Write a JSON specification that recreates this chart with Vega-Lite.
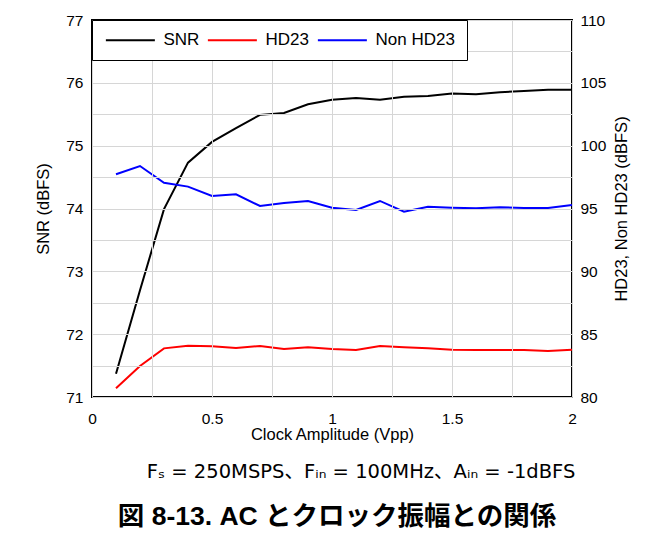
{
  "$schema": "https://vega.github.io/schema/vega-lite/v6.json",
  "padding": {"left": 34, "top": 12, "right": 0, "bottom": 0},
  "background": "white",
  "config": {
    "font": "Liberation Sans",
    "view": {"stroke": "black", "strokeWidth": 2},
    "axis": {
      "domain": false,
      "ticks": false,
      "grid": true,
      "gridColor": "#d6d6d6",
      "gridOpacity": 1,
      "gridWidth": 1,
      "labelFont": "Liberation Sans",
      "labelFontSize": 15.5,
      "labelColor": "black",
      "titleFont": "Liberation Sans",
      "titleFontSize": 16.5,
      "titleFontWeight": "normal",
      "titleColor": "black"
    }
  },
  "title": {
    "text": "図 8-13. AC とクロック振幅との関係",
    "orient": "bottom",
    "anchor": "middle",
    "dx": 4,
    "font": "Liberation Sans, Noto Sans CJK JP",
    "fontSize": 26.5,
    "fontWeight": "bold",
    "color": "black",
    "offset": 21
  },
  "vconcat": [
    {
      "width": 480,
      "height": 377,
      "title": {
        "text": "Fₛ = 250MSPS、Fᵢₙ = 100MHz、Aᵢₙ = -1dBFS",
        "orient": "bottom",
        "anchor": "middle",
        "dx": 29,
        "font": "DejaVu Sans, Noto Sans CJK JP",
        "fontSize": 19.5,
        "fontWeight": "normal",
        "color": "black",
        "offset": 20
      },
      "data": {
        "values": [
          {"x": 0.1, "series": "SNR", "value": 71.37},
          {"x": 0.2, "series": "SNR", "value": 72.7},
          {"x": 0.3, "series": "SNR", "value": 73.99},
          {"x": 0.4, "series": "SNR", "value": 74.73},
          {"x": 0.5, "series": "SNR", "value": 75.06},
          {"x": 0.6, "series": "SNR", "value": 75.28},
          {"x": 0.7, "series": "SNR", "value": 75.49},
          {"x": 0.8, "series": "SNR", "value": 75.52},
          {"x": 0.9, "series": "SNR", "value": 75.66},
          {"x": 1.0, "series": "SNR", "value": 75.73},
          {"x": 1.1, "series": "SNR", "value": 75.76},
          {"x": 1.2, "series": "SNR", "value": 75.73},
          {"x": 1.3, "series": "SNR", "value": 75.78},
          {"x": 1.4, "series": "SNR", "value": 75.79},
          {"x": 1.5, "series": "SNR", "value": 75.83},
          {"x": 1.6, "series": "SNR", "value": 75.82},
          {"x": 1.7, "series": "SNR", "value": 75.85},
          {"x": 1.8, "series": "SNR", "value": 75.87},
          {"x": 1.9, "series": "SNR", "value": 75.89},
          {"x": 2.0, "series": "SNR", "value": 75.89},
          {"x": 0.1, "series": "HD23", "value": 80.69},
          {"x": 0.2, "series": "HD23", "value": 82.47},
          {"x": 0.3, "series": "HD23", "value": 83.87},
          {"x": 0.4, "series": "HD23", "value": 84.08},
          {"x": 0.5, "series": "HD23", "value": 84.03},
          {"x": 0.6, "series": "HD23", "value": 83.9},
          {"x": 0.7, "series": "HD23", "value": 84.06},
          {"x": 0.8, "series": "HD23", "value": 83.82},
          {"x": 0.9, "series": "HD23", "value": 83.96},
          {"x": 1.0, "series": "HD23", "value": 83.82},
          {"x": 1.1, "series": "HD23", "value": 83.74},
          {"x": 1.2, "series": "HD23", "value": 84.06},
          {"x": 1.3, "series": "HD23", "value": 83.96},
          {"x": 1.4, "series": "HD23", "value": 83.87},
          {"x": 1.5, "series": "HD23", "value": 83.76},
          {"x": 1.6, "series": "HD23", "value": 83.74},
          {"x": 1.7, "series": "HD23", "value": 83.74},
          {"x": 1.8, "series": "HD23", "value": 83.74},
          {"x": 1.9, "series": "HD23", "value": 83.66},
          {"x": 2.0, "series": "HD23", "value": 83.76},
          {"x": 0.1, "series": "Non HD23", "value": 97.72},
          {"x": 0.2, "series": "Non HD23", "value": 98.38},
          {"x": 0.3, "series": "Non HD23", "value": 97.05},
          {"x": 0.4, "series": "Non HD23", "value": 96.74},
          {"x": 0.5, "series": "Non HD23", "value": 96.0},
          {"x": 0.6, "series": "Non HD23", "value": 96.13},
          {"x": 0.7, "series": "Non HD23", "value": 95.2},
          {"x": 0.8, "series": "Non HD23", "value": 95.44},
          {"x": 0.9, "series": "Non HD23", "value": 95.6},
          {"x": 1.0, "series": "Non HD23", "value": 95.06},
          {"x": 1.1, "series": "Non HD23", "value": 94.88},
          {"x": 1.2, "series": "Non HD23", "value": 95.6},
          {"x": 1.3, "series": "Non HD23", "value": 94.75},
          {"x": 1.4, "series": "Non HD23", "value": 95.14},
          {"x": 1.5, "series": "Non HD23", "value": 95.06},
          {"x": 1.6, "series": "Non HD23", "value": 95.02},
          {"x": 1.7, "series": "Non HD23", "value": 95.1},
          {"x": 1.8, "series": "Non HD23", "value": 95.04},
          {"x": 1.9, "series": "Non HD23", "value": 95.04},
          {"x": 2.0, "series": "Non HD23", "value": 95.28}
        ]
      },
      "encoding": {
        "x": {
          "field": "x",
          "type": "quantitative",
          "scale": {"domain": [0, 2], "nice": false, "zero": false},
          "axis": {
            "title": "Clock Amplitude (Vpp)",
            "grid": true,
            "zindex": 1,
            "values": [0, 0.25, 0.5, 0.75, 1, 1.25, 1.5, 1.75, 2],
            "format": "~g",
            "labelExpr": "datum.value % 0.5 == 0 ? datum.label : ''",
            "labelPadding": 14,
            "titlePadding": 0,
            "labelFlush": false,
            "labelOverlap": false
          }
        },
        "color": {
          "field": "series",
          "type": "nominal",
          "scale": {"domain": ["SNR", "HD23", "Non HD23"], "range": ["black", "#ff0000", "#0000ff"]},
          "legend": {
            "title": null,
            "orient": "top-left",
            "offset": 0,
            "direction": "horizontal",
            "symbolType": "M-1,0H7",
            "symbolSize": 150,
            "symbolStrokeWidth": 2,
            "labelFont": "Liberation Sans",
            "labelFontSize": 17,
            "labelColor": "black",
            "labelOffset": 43,
            "columnPadding": 4,
            "padding": 11.5,
            "strokeColor": "black",
            "fillColor": "white",
            "zindex": 2
          }
        }
      },
      "layer": [
        {
          "transform": [{"filter": "datum.series == 'SNR'"}],
          "mark": {"type": "line", "strokeWidth": 2},
          "encoding": {
            "y": {
              "field": "value",
              "type": "quantitative",
              "scale": {"domain": [71, 77], "nice": false, "zero": false},
              "axis": {
                "orient": "left",
                "title": "SNR (dBFS)",
                "grid": true,
                "zindex": 1,
                "values": [71, 71.5, 72, 72.5, 73, 73.5, 74, 74.5, 75, 75.5, 76, 76.5, 77],
                "format": "~g",
                "labelExpr": "datum.value % 1 == 0 ? datum.label : ''",
                "labelPadding": 9,
                "titlePadding": 14,
                "labelFlush": false,
                "labelOverlap": false
              }
            }
          }
        },
        {
          "transform": [{"filter": "datum.series != 'SNR'"}],
          "mark": {"type": "line", "strokeWidth": 2},
          "encoding": {
            "y": {
              "field": "value",
              "type": "quantitative",
              "scale": {"domain": [80, 110], "nice": false, "zero": false},
              "axis": {
                "orient": "right",
                "title": "HD23, Non HD23 (dBFS)",
                "grid": false,
                "values": [80, 85, 90, 95, 100, 105, 110],
                "format": "~g",
                "labelPadding": 8,
                "titlePadding": 8,
                "titleAngle": 270,
                "titleBaseline": "top",
                "labelFlush": false,
                "labelOverlap": false
              }
            }
          }
        }
      ],
      "resolve": {"scale": {"y": "independent"}, "axis": {"y": "independent"}}
    }
  ]
}
